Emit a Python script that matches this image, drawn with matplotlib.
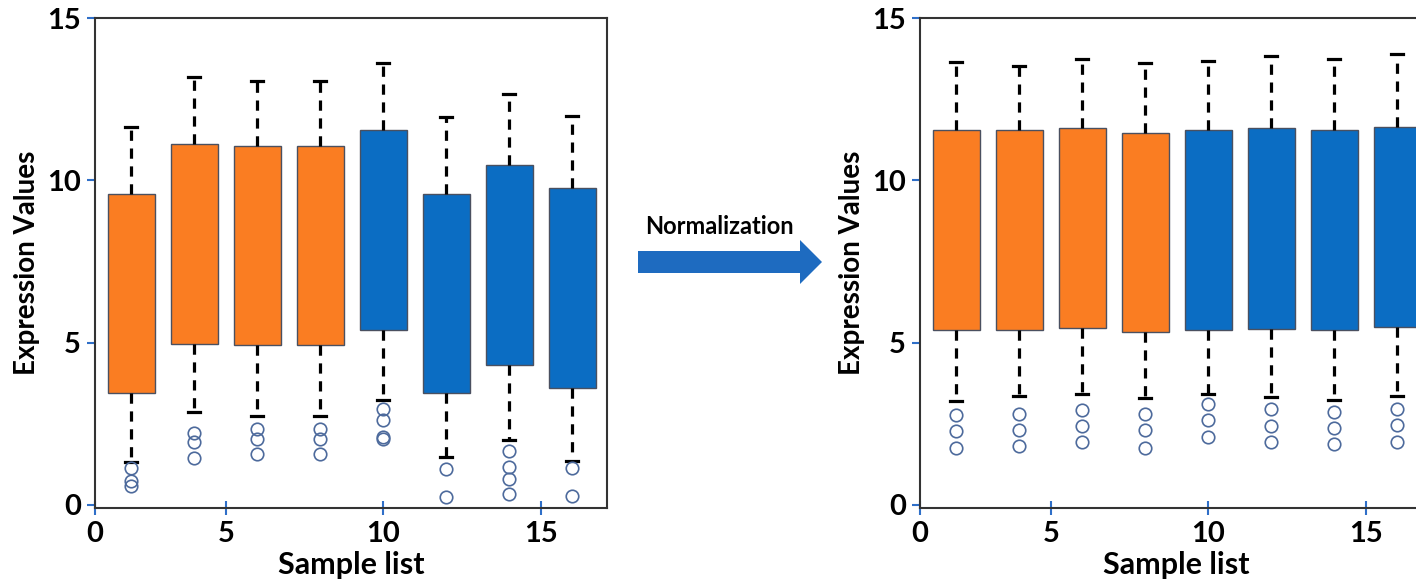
import numpy as np
import matplotlib.pyplot as plt
from matplotlib.patches import FancyArrow

plt.rcParams['font.family'] = ['Lato', 'DejaVu Sans']

# sample positions and group colours
positions = [2, 4, 6, 8, 10, 12, 14, 16]
groups = ['orange', 'orange', 'orange', 'orange', 'blue', 'blue', 'blue', 'blue']

# raw data (before normalization): q1, q3, whisker low, whisker high, outliers
raw_q1 = [3.43, 4.97, 4.92, 4.92, 5.40, 3.43, 4.31, 3.59]
raw_q3 = [9.59, 11.12, 11.07, 11.07, 11.55, 9.59, 10.47, 9.75]
raw_lo = [1.31, 2.87, 2.75, 2.75, 3.23, 1.48, 2.00, 1.35]
raw_hi = [11.64, 13.17, 13.06, 13.06, 13.60, 11.95, 12.67, 11.97]
raw_out = [[1.12, 0.72, 0.58], [2.20, 1.92, 1.44], [2.32, 2.03, 1.58],
           [2.32, 2.03, 1.58], [2.95, 2.60, 2.10, 2.03], [1.10, 0.23],
           [1.66, 1.16, 0.78, 0.32], [1.12, 0.27]]

# normalized data
norm_q1 = [5.40, 5.40, 5.45, 5.31, 5.40, 5.43, 5.40, 5.49]
norm_q3 = [11.55, 11.55, 11.61, 11.47, 11.55, 11.61, 11.55, 11.64]
norm_lo = [3.20, 3.36, 3.42, 3.28, 3.42, 3.32, 3.23, 3.36]
norm_hi = [13.66, 13.51, 13.74, 13.60, 13.69, 13.83, 13.74, 13.89]
norm_out = [[2.77, 2.26, 1.74], [2.79, 2.31, 1.82], [2.91, 2.43, 1.92],
            [2.79, 2.29, 1.76], [3.11, 2.60, 2.09], [2.94, 2.43, 1.92],
            [2.86, 2.37, 1.86], [2.94, 2.45, 1.95]]

colors = {'orange': '#FA7D22', 'blue': '#0B6DC3'}
tick_blue = '#2F6FC8'


def make_stats(q1, q3, lo, hi, out):
    stats = []
    for i in range(len(q1)):
        stats.append(dict(q1=q1[i], q3=q3[i], med=q1[i], whislo=lo[i],
                          whishi=hi[i], fliers=np.array(out[i])))
    return stats


def draw_panel(ax, stats):
    bp = ax.bxp(stats, positions=positions, widths=1.5, patch_artist=True,
                capwidths=0.38, showfliers=True,
                boxprops=dict(edgecolor='#4a5060', linewidth=1.0),
                whiskerprops=dict(color='black', linestyle=(0, (3.2, 2.4)), linewidth=2.3),
                capprops=dict(color='black', linewidth=2.3),
                medianprops=dict(linewidth=0),
                flierprops=dict(marker='o', markersize=9, markerfacecolor='none',
                                markeredgecolor='#4d6a9c', markeredgewidth=1.2))
    for patch, g in zip(bp['boxes'], groups):
        patch.set_facecolor(colors[g])
    ax.set_xlim(0.85, 17.1)
    ax.set_ylim(-0.1, 15)
    ax.set_xticks([0.85, 5, 10, 15])
    ax.set_xticklabels(['0', '5', '10', '15'])
    ax.set_yticks([0, 5, 10, 15])
    ax.set_yticklabels(['0', '5', '10', '15'])
    ax.tick_params(axis='y', direction='out', length=6, width=1.5, color=tick_blue,
                   labelsize=21, pad=4)
    ax.tick_params(axis='x', direction='inout', length=10, width=1.5, color=tick_blue,
                   labelsize=21, pad=4)
    for lab in ax.get_xticklabels() + ax.get_yticklabels():
        lab.set_fontweight('bold')
    for sp in ax.spines.values():
        sp.set_color('#333333')
        sp.set_linewidth(1.5)
    ax.set_xlabel('Sample list', fontsize=22, fontweight='bold', labelpad=3)
    ax.set_ylabel('Expression Values', fontsize=20, fontweight='bold', labelpad=5)


fig = plt.figure(figsize=(14.16, 5.8), dpi=100)
ax1 = fig.add_axes([0.0671, 0.1241, 0.3616, 0.8448])
ax2 = fig.add_axes([0.6497, 0.1241, 0.3616, 0.8448])

draw_panel(ax1, make_stats(raw_q1, raw_q3, raw_lo, raw_hi, raw_out))
draw_panel(ax2, make_stats(norm_q1, norm_q3, norm_lo, norm_hi, norm_out))

# arrow between panels
arrow = FancyArrow(638 / 1416, 1 - 262 / 580, 162 / 1416, 0, width=22 / 580,
                   head_width=44 / 580, head_length=22 / 1416,
                   length_includes_head=False, transform=fig.transFigure,
                   color='#1E6BC0', linewidth=0)
fig.patches.append(arrow)
fig.text(719 / 1416, 1 - 227 / 580, 'Normalization', ha='center', va='center',
         fontsize=17, fontweight='bold')

fig.savefig('out.png', dpi=100)
